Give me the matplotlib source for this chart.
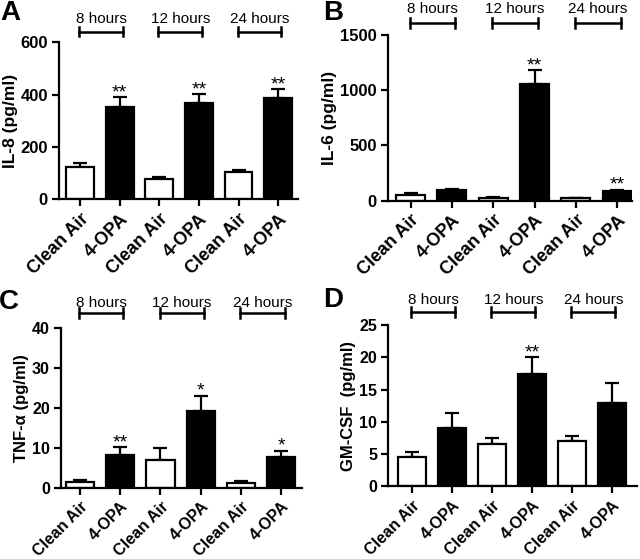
import numpy as np
import matplotlib
matplotlib.use("Agg")
import matplotlib.pyplot as plt
import matplotlib.transforms as mtransforms

plt.rcParams['font.family'] = ['Liberation Sans', 'DejaVu Sans']

# 数据
categories = ['Clean Air', '4-OPA', 'Clean Air', '4-OPA', 'Clean Air', '4-OPA']
time_groups = ['8 hours', '12 hours', '24 hours']

il8_mean = [125, 351, 78, 369, 103, 386]
il8_err = [12, 39, 7, 32, 8, 35]
il8_stars = ['', '**', '', '**', '', '**']

il6_mean = [52, 97, 27, 1056, 21, 90]
il6_err = [14, 11, 9, 127, 6, 7]
il6_stars = ['', '', '', '**', '', '**']

tnf_mean = [1.3, 8.2, 6.8, 19.1, 1.1, 7.7]
tnf_err = [0.6, 1.9, 3.2, 3.9, 0.5, 1.5]
tnf_stars = ['', '**', '', '*', '', '*']

gmcsf_mean = [4.5, 9.0, 6.65, 17.4, 7.1, 12.9]
gmcsf_err = [0.9, 2.3, 0.8, 2.6, 0.7, 3.1]
gmcsf_stars = ['', '', '', '**', '', '']

bar_colors = ['white', 'black', 'white', 'black', 'white', 'black']


def draw_panel(ax, mean, err, stars, ylabel, yticks, xlim,
               xtick_fs, ytick_fs, label_fs, bracket_y, text_y):
    x = np.arange(len(mean))
    ax.bar(x, mean, width=0.7, color=bar_colors, edgecolor='black',
           linewidth=1.6, zorder=2)
    ax.errorbar(x, mean, yerr=[np.zeros(len(err)), err], fmt='none',
                ecolor='black', elinewidth=1.6, capsize=5, capthick=1.6,
                zorder=1)
    for xi, m, e, s in zip(x, mean, err, stars):
        if s:
            ax.annotate(s, (xi, m + e), xytext=(0, 0), textcoords='offset points',
                        ha='center', va='baseline', fontsize=14)

    ax.set_xlim(*xlim)
    ax.set_ylim(yticks[0], yticks[-1])
    ax.set_yticks(yticks)
    ax.set_xticks(x)
    ax.set_xticklabels(categories, rotation=45, ha='right',
                       rotation_mode='anchor', fontsize=xtick_fs, fontweight='bold')
    for lab in ax.get_yticklabels():
        lab.set_fontsize(ytick_fs)
        lab.set_fontweight('bold')
    ax.set_ylabel(ylabel, fontsize=label_fs, fontweight='bold', labelpad=2)
    ax.spines['top'].set_visible(False)
    ax.spines['right'].set_visible(False)
    ax.spines['left'].set_linewidth(1.6)
    ax.spines['bottom'].set_linewidth(1.6)
    ax.tick_params(width=1.6, length=5, pad=3)

    # 时间括号
    trans = mtransforms.blended_transform_factory(ax.transData, ax.transAxes)
    for g, name in enumerate(time_groups):
        x0 = 2 * g - 0.02
        x1 = 2 * g + 1.08
        ax.plot([x0, x1], [bracket_y, bracket_y], color='black', lw=1.8,
                transform=trans, clip_on=False)
        for xe in (x0, x1):
            ax.plot([xe, xe], [bracket_y - 0.03, bracket_y + 0.03], color='black',
                    lw=1.8, transform=trans, clip_on=False)
        ax.text((x0 + x1) / 2, text_y, name, ha='center', va='center',
                fontsize=11, transform=trans)


fig = plt.figure(figsize=(6.4, 5.59), dpi=100)
axA = fig.add_axes([0.0922, 0.6435, 0.3734, 0.2808])
axB = fig.add_axes([0.606, 0.6413, 0.381, 0.296])
axC = fig.add_axes([0.0953, 0.1279, 0.377, 0.286])
axD = fig.add_axes([0.6067, 0.1297, 0.388, 0.289])

draw_panel(axA, il8_mean, il8_err, il8_stars, 'IL-8 (pg/ml)',
           [0, 200, 400, 600], (-0.53, 5.5), 13, 12, 12.5, 1.0675, 1.151)
draw_panel(axB, il6_mean, il6_err, il6_stars, 'IL-6 (pg/ml)',
           [0, 500, 1000, 1500], (-0.55, 5.35), 13, 12, 12.5, 1.0706, 1.157)
draw_panel(axC, tnf_mean, tnf_err, tnf_stars, 'TNF-α (pg/ml)',
           [0, 10, 20, 30, 40], (-0.47, 5.52), 11.5, 11.5, 12, 1.09, 1.156)
draw_panel(axD, gmcsf_mean, gmcsf_err, gmcsf_stars, 'GM-CSF  (pg/ml)',
           [0, 5, 10, 15, 20, 25], (-0.6, 5.61), 11.5, 11.5, 12, 1.0786, 1.155)

# 面板字母
for letter, px, py in [('A', 10, 13), ('B', 333, 13), ('C', 9, 302), ('D', 333, 300)]:
    fig.text(px / 640, 1 - py / 559, letter, fontsize=20, fontweight='bold',
             ha='center', va='center')

fig.savefig('out.png', dpi=100)
